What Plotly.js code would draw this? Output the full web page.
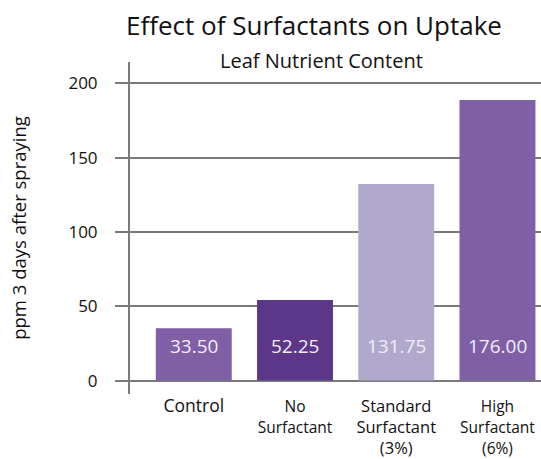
<!DOCTYPE html>
<html>
<head>
<meta charset="utf-8">
<script src="https://cdn.plot.ly/plotly-3.0.1.min.js"></script>
<style>html,body{margin:0;padding:0;background:#fff;}#chart{width:541px;height:459px;}</style>
</head>
<body>
<div id="chart"></div>
<script>
// Data
const categories = ["Control", "No Surfactant", "Standard Surfactant (3%)", "High Surfactant (6%)"];
const tickLabels = [
  "<span style='font-size:17.5px'>Control</span>",
  "<span style='font-size:15.5px'>No<br>Surfactant</span>",
  "Standard<br>Surfactant<br>(3%)",
  "<span style='font-size:15.5px'>High<br>Surfactant<br>(6%)</span>"
];
const barValues = [35.2, 54.3, 132.3, 188.8];
const barLabels = ["33.50", "52.25", "131.75", "176.00"];
const barColors = ["#7f5fa5", "#5b3689", "#b0a9cc", "#7f5fa6"];
const labelY = 23;

const FONT = "Open Sans, sans-serif";

const trace = {
  type: "bar",
  x: categories,
  y: barValues,
  marker: {color: barColors, line: {width: 0}},
  hoverinfo: "skip"
};

const annotations = categories.map((c, i) => ({
  x: c, y: labelY, xref: "x", yref: "y",
  text: barLabels[i], showarrow: false,
  font: {family: FONT, size: 19, color: "#f2f0f7"},
  xanchor: "center", yanchor: "middle"
}));
annotations.push({
  xref: "paper", yref: "paper", x: (321 - 130) / 411, y: 1, yshift: 2,
  text: "Leaf Nutrient Content", showarrow: false,
  font: {family: FONT, size: 20, color: "#111"},
  xanchor: "center", yanchor: "middle"
});

const layout = {
  width: 541, height: 459,
  margin: {l: 130, r: 0, t: 62, b: 65, pad: 0},
  paper_bgcolor: "#fff", plot_bgcolor: "#fff",
  showlegend: false,
  bargap: 0.25,
  title: {
    text: "Effect of Surfactants on Uptake",
    font: {family: FONT, size: 26, color: "#111"},
    x: 314 / 541, xref: "container", xanchor: "center",
    y: 1 - 26 / 459, yref: "container", yanchor: "middle"
  },
  xaxis: {
    categoryorder: "array", categoryarray: categories,
    tickmode: "array", tickvals: categories, ticktext: tickLabels,
    range: [-0.63, 3.43],
    showgrid: false, zeroline: false, showline: false,
    ticks: "", ticklen: 0,
    tickfont: {family: FONT, size: 16.5, color: "#111"},
    fixedrange: true
  },
  yaxis: {
    range: [-9, 214.3],
    tickmode: "array", tickvals: [0, 50, 100, 150, 200],
    showgrid: true, gridcolor: "#7a7a7a", gridwidth: 2,
    zeroline: false,
    showline: true, linecolor: "#7a7a7a", linewidth: 2,
    ticks: "outside", ticklen: 13, tickcolor: "#7a7a7a", tickwidth: 2,
    ticklabelstandoff: 14,
    tickfont: {family: FONT, size: 17, color: "#111"},
    title: {text: "ppm 3 days after spraying", font: {family: FONT, size: 18.5, color: "#111"}, standoff: 37},
    fixedrange: true
  },
  annotations: annotations
};

Plotly.newPlot("chart", [trace], layout, {staticPlot: true, displayModeBar: false});
</script>
</body>
</html>
